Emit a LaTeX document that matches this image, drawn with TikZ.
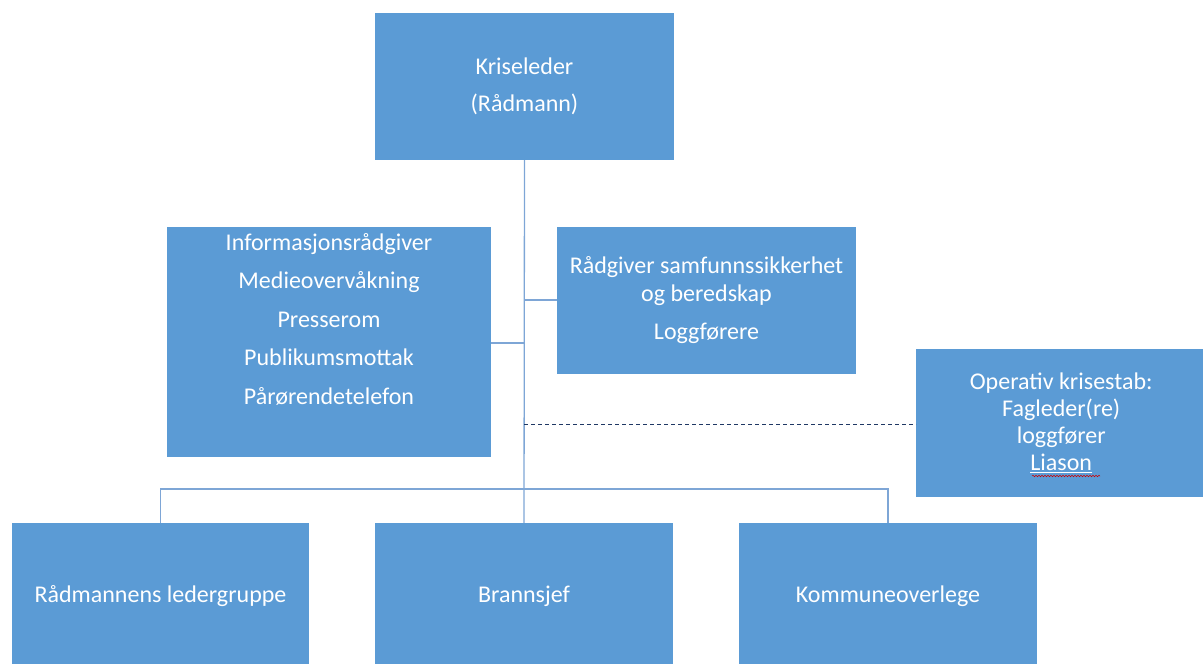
\documentclass[tikz,border=0pt]{standalone}
\usepackage{fontspec}
\setmainfont{Carlito}
\usetikzlibrary{decorations.pathmorphing}
\definecolor{boxblue}{HTML}{5B9BD5}
\definecolor{lineblue}{HTML}{7EA6D6}
\definecolor{navy}{HTML}{1F3864}
\tikzset{
	orgbox/.style={fill=boxblue, draw=none, text=white, align=center, inner sep=0pt, font=\fontsize{24}{27}\selectfont},
	link/.style={draw=lineblue, line width=1.3pt},
	dotlink/.style={draw=navy, line width=0.9pt, dash pattern=on 4pt off 3pt}
}

\begin{document}
\begin{tikzpicture}[x=1pt, y=-1pt]
		%%%%% START %%%%%
		
		\useasboundingbox (0, 0) rectangle (1203, 664);
		
		\node[orgbox, minimum width=299, minimum height=147] (leder) at (524.5, 86.5) {Kriseleder\\[10pt](Rådmann)};
		
		\node[orgbox, minimum width=324, minimum height=230] (info) at (329, 342) {Informasjonsrådgiver\\[11.5pt]Medieovervåkning\\[11.5pt]Presserom\\[11.5pt]Publikumsmottak\\[11.5pt]Pårørendetelefon\\[11.5pt]\strut};
		\node[orgbox, minimum width=299, minimum height=147] (radgiver) at (706.5, 300.5) {Rådgiver samfunnssikkerhet\\[1pt]og beredskap\\[11pt]Loggførere};
		
		\node[orgbox, minimum width=290, minimum height=148, anchor=west] (stab) at (916, 423) {Operativ krisestab:\\Fagleder(re)\\loggfører\\\underline{Liason}};
		
		\node[orgbox, minimum width=297, minimum height=147] (ledergr) at (160.5, 596.5) {Rådmannens ledergruppe};
		\node[orgbox, minimum width=298, minimum height=147] (brann) at (524, 596.5) {Brannsjef};
		\node[orgbox, minimum width=298, minimum height=147] (overlege) at (888, 596.5) {Kommuneoverlege};
		
		% spell check mark under Liason
		\draw[red!80!black, line width=0.5pt, decorate, decoration={snake, amplitude=0.8pt, segment length=3pt}] (1032, 476) -- (1100, 476);
		
		\coordinate (bus) at (524, 489);
		\coordinate (infoknee) at (524, 343);
		\coordinate (radknee) at (524, 300);
		\coordinate (stabknee) at (524, 424);
		
		\draw[link] (leder.south) -- (brann.north);
		\draw[link] (info.east |- infoknee) -- (infoknee);
		\draw[link] (radknee) -- (radgiver.west |- radknee);
		\draw[link] (ledergr.north) |- (bus) -| (overlege.north);
		
		\draw[dotlink] (stabknee) -- (stab.west |- stabknee);
		
		%%%%% END %%%%%
	\end{tikzpicture}
\end{document}
